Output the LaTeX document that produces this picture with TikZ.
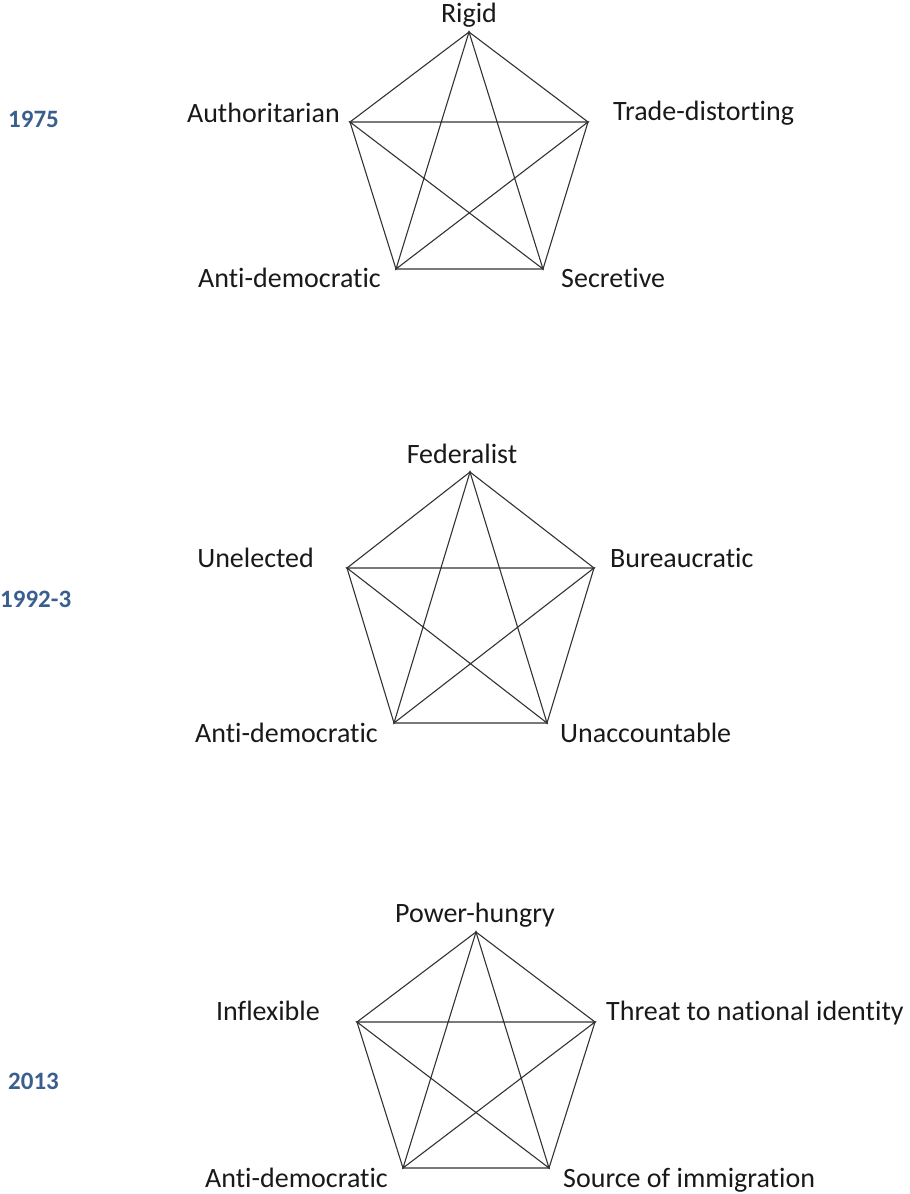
\documentclass[tikz,border=0pt]{standalone}
\usepackage{fontspec}
\setmainfont{Carlito}[Ligatures=NoCommon]

\begin{document}
\begin{tikzpicture}[x=1pt,y=-1pt]
\tikzset{
% vertices of the pentagons, the words beside them and the years
vertex/.style={circle,fill=black!80,inner sep=0.6},
tag/.style={inner sep=0,font=\fontsize{28}{34}\selectfont,text=black!90},
year/.style={inner sep=0,font=\fontsize{25}{30}\selectfont\bfseries,text={rgb,255:red,58;green,95;blue,143}},
edge/.style={draw=black!80,line width=1.1pt}
}
\useasboundingbox (0,0) rectangle (910,1194);

% 1975
\node(1t)[vertex] at (469,32) {};
\node(1l)[vertex] at (350,122) {};
\node(1r)[vertex] at (588,122) {};
\node(1bl)[vertex] at (396,269) {};
\node(1br)[vertex] at (543,269) {};
\draw[edge] (1t.center)--(1r.center)--(1br.center)--(1bl.center)--(1l.center)--cycle;
\draw[edge] (1t.center)--(1br.center)--(1l.center)--(1r.center)--(1bl.center)--cycle;
\node[tag,anchor=base] at (469,22) {Rigid};
\node[tag,anchor=base east] at (340,122) {Authoritarian};
\node[tag,anchor=base west] at (613,120) {Trade-distorting};
\node[tag,anchor=base east] at (381,287) {Anti-democratic};
\node[tag,anchor=base west] at (561,287) {Secretive};
\node[year,anchor=base west] at (8,127) {1975};

% 1992-3
\node(2t)[vertex] at (470,472) {};
\node(2l)[vertex] at (347,568) {};
\node(2r)[vertex] at (594,568) {};
\node(2bl)[vertex] at (394,723) {};
\node(2br)[vertex] at (547,723) {};
\draw[edge] (2t.center)--(2r.center)--(2br.center)--(2bl.center)--(2l.center)--cycle;
\draw[edge] (2t.center)--(2br.center)--(2l.center)--(2r.center)--(2bl.center)--cycle;
\node[tag,anchor=base] at (462,463) {Federalist};
\node[tag,anchor=base east] at (314,567) {Unelected};
\node[tag,anchor=base west] at (610,567) {Bureaucratic};
\node[tag,anchor=base east] at (378,742) {Anti-democratic};
\node[tag,anchor=base west] at (560,742) {Unaccountable};
\node[year,anchor=base west] at (0,607) {1992-3};

% 2013
\node(3t)[vertex] at (476,932) {};
\node(3l)[vertex] at (357,1022) {};
\node(3r)[vertex] at (595,1022) {};
\node(3bl)[vertex] at (403,1168) {};
\node(3br)[vertex] at (549,1168) {};
\draw[edge] (3t.center)--(3r.center)--(3br.center)--(3bl.center)--(3l.center)--cycle;
\draw[edge] (3t.center)--(3br.center)--(3l.center)--(3r.center)--(3bl.center)--cycle;
\node[tag,anchor=base] at (475,922) {Power-hungry};
\node[tag,anchor=base east] at (320,1020) {Inflexible};
\node[tag,anchor=base west] at (606,1020) {Threat to national identity};
\node[tag,anchor=base east] at (388,1187) {Anti-democratic};
\node[tag,anchor=base west] at (563,1187) {Source of immigration};
\node[year,anchor=base west] at (8,1089) {2013};
\end{tikzpicture}
\end{document}
